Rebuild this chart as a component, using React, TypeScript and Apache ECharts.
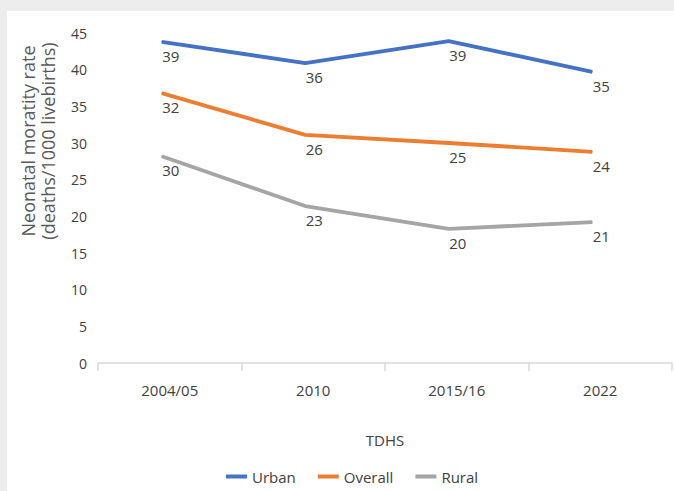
import React, { useEffect, useRef } from "react";
import * as echarts from "echarts";

const categories = ["2004/05", "2010", "2015/16", "2022"];
const yTicks = [0, 5, 10, 15, 20, 25, 30, 35, 40, 45];

// plotted line positions
const urbanValues = [43.8, 40.9, 43.9, 39.7];
const overallValues = [36.8, 31.1, 30.0, 28.8];
const ruralValues = [28.2, 21.4, 18.3, 19.2];

// data labels printed in the picture
const urbanLabels = ["39", "36", "39", "35"];
const overallLabels = ["32", "26", "25", "24"];
const ruralLabels = ["30", "23", "20", "21"];

const FONT = "'Open Sans', 'Noto Sans', sans-serif";
const TXT = "#404040";

function makeSeries(name: string, values: number[], labels: string[], color: string) {
  return {
    name,
    type: "line",
    xAxisIndex: 1,
    yAxisIndex: 1,
    data: values,
    symbol: "circle",
    symbolSize: 1,
    showSymbol: true,
    itemStyle: { color },
    lineStyle: { color, width: 3.8 },
    label: {
      show: true,
      position: "bottom",
      distance: 6,
      offset: [9, 0],
      fontFamily: FONT,
      fontSize: 15,
      color: TXT,
      formatter: (p: any) => labels[p.dataIndex],
    },
  };
}

export default function App() {
  const ref = useRef<HTMLDivElement>(null);
  useEffect(() => {
    document.body.style.margin = "0";
    const chart = echarts.init(ref.current!, undefined, { renderer: "svg" });
    chart.setOption({
      animation: false,
      grid: [
        { left: 98, right: 2, top: 33, bottom: 128 },
        { left: 90, right: 10, top: 33, bottom: 128 },
      ],
      xAxis: [
        {
          type: "category",
          gridIndex: 0,
          data: categories,
          boundaryGap: true,
          axisLine: { lineStyle: { color: "#d9d9d9", width: 1.5 } },
          axisTick: { show: true, length: 8, alignWithLabel: false, lineStyle: { color: "#d9d9d9", width: 1.5 } },
          axisLabel: { fontFamily: FONT, fontSize: 15, color: TXT, margin: 19 },
          name: "TDHS",
          nameLocation: "middle",
          nameGap: 69,
          nameTextStyle: { fontFamily: FONT, fontSize: 15, color: TXT },
        },
        {
          type: "category",
          gridIndex: 1,
          data: categories,
          boundaryGap: true,
          show: false,
        },
      ],
      yAxis: [
        {
          type: "value",
          gridIndex: 0,
          min: 0,
          max: 45,
          interval: 5,
          splitLine: { show: false },
          axisLine: { show: false },
          axisTick: { show: false },
          axisLabel: {
            fontFamily: FONT,
            fontSize: 14,
            color: TXT,
            margin: 11,
            padding: [7, 0, 0, 0],
            formatter: (v: number) => (yTicks.includes(v) ? String(v) : ""),
          },
        },
        { type: "value", gridIndex: 1, min: 0, max: 45, interval: 5, show: false },
      ],
      legend: {
        left: 221,
        top: 464,
        icon: "rect",
        itemWidth: 21,
        itemHeight: 4,
        itemGap: 22,
        textStyle: { fontFamily: FONT, fontSize: 15, color: TXT },
        data: ["Urban", "Overall", "Rural"],
      },
      graphic: [
        {
          type: "text",
          x: 28,
          y: 141,
          rotation: Math.PI / 2,
          style: {
            text: "Neonatal moratity rate",
            fontFamily: FONT,
            fontSize: 18,
            fill: "#595959",
            align: "center",
            verticalAlign: "middle",
          },
        },
        {
          type: "text",
          x: 48,
          y: 141,
          rotation: Math.PI / 2,
          style: {
            text: "(deaths/1000 livebirths)",
            fontFamily: FONT,
            fontSize: 18,
            fill: "#595959",
            align: "center",
            verticalAlign: "middle",
          },
        },
      ],
      series: [
        makeSeries("Urban", urbanValues, urbanLabels, "#4472C4"),
        makeSeries("Overall", overallValues, overallLabels, "#ED7D31"),
        makeSeries("Rural", ruralValues, ruralLabels, "#A5A5A5"),
      ],
    });
    return () => chart.dispose();
  }, []);
  return (
    <div style={{ position: "relative", width: 674, height: 491, background: "#ededed", overflow: "hidden" }}>
      <div style={{ position: "absolute", left: 7, top: 11, right: 0, bottom: 0, background: "#ffffff" }} />
      <div ref={ref} style={{ position: "absolute", left: 0, top: 0, width: 674, height: 491 }} />
    </div>
  );
}
